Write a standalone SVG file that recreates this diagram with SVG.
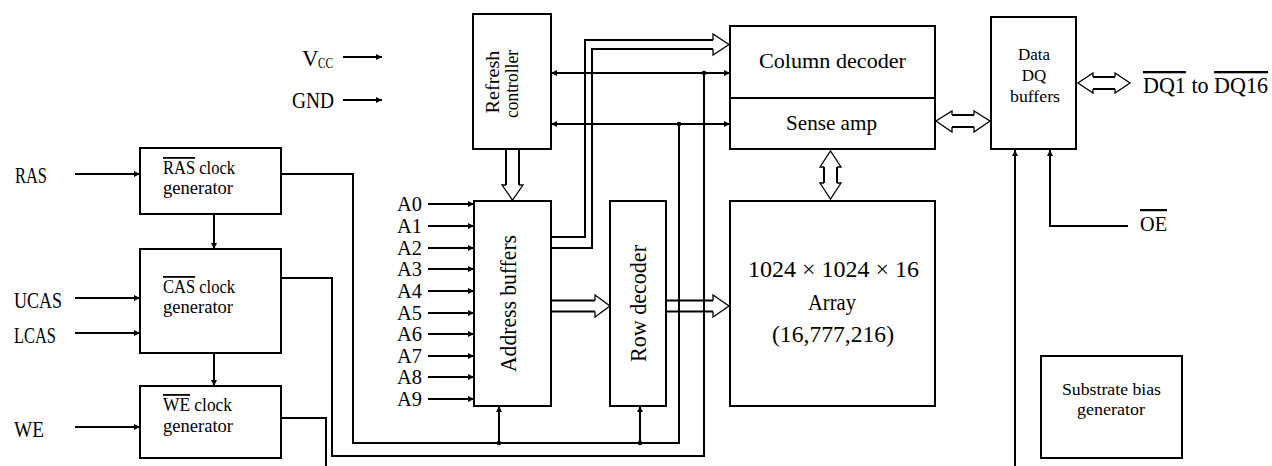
<svg xmlns="http://www.w3.org/2000/svg" width="1272" height="466" viewBox="0 0 1272 466">
<style>
  .box{fill:#fff;stroke:#000;stroke-width:2}
  .ln{fill:none;stroke:#000;stroke-width:2}
  .hd{fill:#fff;stroke:#000;stroke-width:1.3;stroke-linejoin:miter}
  .ar{marker-end:url(#ah)}
  .ar2{marker-start:url(#ah);marker-end:url(#ah)}
  .t{font-family:"Liberation Serif","Times New Roman",serif;fill:#000}
  .ov{text-decoration:overline}
  .dot{fill:#000}
</style>
<defs>
  <marker id="ah" viewBox="0 0 10 10" refX="10" refY="5" markerUnits="userSpaceOnUse" markerWidth="8" markerHeight="6" orient="auto-start-reverse">
    <path d="M0,0 L10,5 L0,10 z" fill="#000"/>
  </marker>
</defs>
<rect width="1272" height="466" fill="#fff"/>

<g id="connectors">
  <line class="ln ar" x1="75" y1="174" x2="140" y2="174"/>
  <line class="ln ar" x1="75" y1="298" x2="140" y2="298"/>
  <line class="ln ar" x1="75" y1="333" x2="140" y2="333"/>
  <line class="ln ar" x1="75" y1="427" x2="140" y2="427"/>
  <line class="ln ar" x1="214" y1="214" x2="214" y2="249"/>
  <line class="ln ar" x1="214" y1="353" x2="214" y2="386"/>
  <line class="ln ar" x1="343" y1="57" x2="382" y2="57"/>
  <line class="ln ar" x1="343" y1="100" x2="382" y2="100"/>
  <line class="ln ar" x1="428" y1="204" x2="474" y2="204"/>
  <line class="ln ar" x1="428" y1="226" x2="474" y2="226"/>
  <line class="ln ar" x1="428" y1="248" x2="474" y2="248"/>
  <line class="ln ar" x1="428" y1="269" x2="474" y2="269"/>
  <line class="ln ar" x1="428" y1="291" x2="474" y2="291"/>
  <line class="ln ar" x1="428" y1="313" x2="474" y2="313"/>
  <line class="ln ar" x1="428" y1="334" x2="474" y2="334"/>
  <line class="ln ar" x1="428" y1="356" x2="474" y2="356"/>
  <line class="ln ar" x1="428" y1="377" x2="474" y2="377"/>
  <line class="ln ar" x1="428" y1="399" x2="474" y2="399"/>
  <line class="ln ar2" x1="551" y1="73" x2="730" y2="73"/>
  <line class="ln ar2" x1="551" y1="124" x2="730" y2="124"/>
  <polyline class="ln" points="281,174 353,174 353,443 679,443 679,124"/>
  <polyline class="ln" points="281,278 332,278 332,456 704,456 704,73"/>
  <polyline class="ln" points="281,418 326,418 326,466"/>
  <line class="ln ar" x1="499" y1="443" x2="499" y2="406"/>
  <line class="ln ar" x1="640" y1="443" x2="640" y2="406"/>
  <circle class="dot" cx="499" cy="443" r="2.3"/>
  <circle class="dot" cx="640" cy="443" r="2.3"/>
  <circle class="dot" cx="679" cy="124" r="2.3"/>
  <circle class="dot" cx="704" cy="73" r="2.3"/>
  <polyline class="ln" points="551,237 585,237 585,40 713,40"/>
  <polyline class="ln" points="551,248 592,248 592,49 713,49"/>
  <path class="hd" d="M713,40 L713,34 L729,44.5 L713,55 L713,49"/>
  <line class="ln" x1="506" y1="149" x2="506" y2="185"/>
  <line class="ln" x1="519" y1="149" x2="519" y2="185"/>
  <path class="hd" d="M506,185 L502,185 L512.5,200 L523,185 L519,185"/>
  <line class="ln" x1="551" y1="300.5" x2="595" y2="300.5"/>
  <line class="ln" x1="551" y1="311.5" x2="595" y2="311.5"/>
  <path class="hd" d="M595,300.5 L595,295 L610,306 L595,317 L595,311.5"/>
  <line class="ln" x1="666" y1="300.5" x2="713" y2="300.5"/>
  <line class="ln" x1="666" y1="311.5" x2="713" y2="311.5"/>
  <path class="hd" d="M713,300.5 L713,295 L729,306 L713,317 L713,311.5"/>
  <path class="hd" d="M824,167 L820,167 L830.5,151 L841,167 L837,167"/>
  <line class="ln" x1="824" y1="167" x2="824" y2="183"/>
  <line class="ln" x1="837" y1="167" x2="837" y2="183"/>
  <path class="hd" d="M824,183 L820,183 L830.5,199 L841,183 L837,183"/>
  <path class="hd" d="M952,115 L952,111 L936,121 L952,132 L952,127"/>
  <line class="ln" x1="952" y1="115" x2="974" y2="115"/>
  <line class="ln" x1="952" y1="127" x2="974" y2="127"/>
  <path class="hd" d="M974,115 L974,111 L990,121 L974,132 L974,127"/>
  <path class="hd" d="M1093,77 L1093,73 L1078,83 L1093,93 L1093,89"/>
  <line class="ln" x1="1093" y1="77" x2="1115" y2="77"/>
  <line class="ln" x1="1093" y1="89" x2="1115" y2="89"/>
  <path class="hd" d="M1115,77 L1115,73 L1130,83 L1115,93 L1115,89"/>
  <line class="ln ar" x1="1015" y1="466" x2="1015" y2="150"/>
  <polyline class="ln ar" points="1128,226 1050,226 1050,150"/>
</g>

<g id="labels">
  <text class="t" x="15" y="183" font-size="23" textLength="32" lengthAdjust="spacingAndGlyphs">RAS</text>
  <text class="t" x="14" y="308" font-size="23" textLength="48" lengthAdjust="spacingAndGlyphs">UCAS</text>
  <text class="t" x="14" y="343" font-size="23" textLength="42" lengthAdjust="spacingAndGlyphs">LCAS</text>
  <text class="t" x="14" y="437" font-size="23" textLength="30" lengthAdjust="spacingAndGlyphs">WE</text>
  <text class="t" x="302" y="66" font-size="23">V</text>
  <text class="t" x="318" y="68" font-size="15" textLength="15" lengthAdjust="spacingAndGlyphs">CC</text>
  <text class="t" x="292" y="108" font-size="23" textLength="42" lengthAdjust="spacingAndGlyphs">GND</text>
  <g font-size="20">
    <text class="t" x="397" y="211" textLength="25" lengthAdjust="spacingAndGlyphs">A0</text>
    <text class="t" x="397" y="233" textLength="25" lengthAdjust="spacingAndGlyphs">A1</text>
    <text class="t" x="397" y="255" textLength="25" lengthAdjust="spacingAndGlyphs">A2</text>
    <text class="t" x="397" y="276" textLength="25" lengthAdjust="spacingAndGlyphs">A3</text>
    <text class="t" x="397" y="298" textLength="25" lengthAdjust="spacingAndGlyphs">A4</text>
    <text class="t" x="397" y="320" textLength="25" lengthAdjust="spacingAndGlyphs">A5</text>
    <text class="t" x="397" y="341" textLength="25" lengthAdjust="spacingAndGlyphs">A6</text>
    <text class="t" x="397" y="363" textLength="25" lengthAdjust="spacingAndGlyphs">A7</text>
    <text class="t" x="397" y="384" textLength="25" lengthAdjust="spacingAndGlyphs">A8</text>
    <text class="t" x="397" y="406" textLength="25" lengthAdjust="spacingAndGlyphs">A9</text>
  </g>
  <text class="t" x="1143" y="93" font-size="23" textLength="125" lengthAdjust="spacingAndGlyphs"><tspan class="ov">DQ1</tspan> to <tspan class="ov">DQ16</tspan></text>
  <text class="t ov" x="1140" y="231" font-size="22" textLength="27" lengthAdjust="spacingAndGlyphs">OE</text>
</g>

<g id="ras-clock-generator">
  <rect class="box" x="140" y="148" width="141" height="66"/>
  <text class="t" x="163" y="174" font-size="18" textLength="72" lengthAdjust="spacingAndGlyphs"><tspan class="ov">RAS</tspan> clock</text>
  <text class="t" x="163" y="194" font-size="18" textLength="70" lengthAdjust="spacingAndGlyphs">generator</text>
</g>
<g id="cas-clock-generator">
  <rect class="box" x="140" y="249" width="141" height="104"/>
  <text class="t" x="163" y="293" font-size="18" textLength="72" lengthAdjust="spacingAndGlyphs"><tspan class="ov">CAS</tspan> clock</text>
  <text class="t" x="163" y="313" font-size="18" textLength="70" lengthAdjust="spacingAndGlyphs">generator</text>
</g>
<g id="we-clock-generator">
  <rect class="box" x="140" y="386" width="141" height="72"/>
  <text class="t" x="163" y="411" font-size="18" textLength="69" lengthAdjust="spacingAndGlyphs"><tspan class="ov">WE</tspan> clock</text>
  <text class="t" x="163" y="432" font-size="18" textLength="70" lengthAdjust="spacingAndGlyphs">generator</text>
</g>
<g id="refresh-controller">
  <rect class="box" x="473" y="14" width="78" height="135"/>
  <text class="t" transform="translate(499,82) rotate(-90)" text-anchor="middle" font-size="19" textLength="63" lengthAdjust="spacingAndGlyphs">Refresh</text>
  <text class="t" transform="translate(518,84) rotate(-90)" text-anchor="middle" font-size="19" textLength="68" lengthAdjust="spacingAndGlyphs">controller</text>
</g>
<g id="address-buffers">
  <rect class="box" x="474" y="201" width="77" height="205"/>
  <text class="t" transform="translate(516,303.5) rotate(-90)" text-anchor="middle" font-size="24" textLength="137" lengthAdjust="spacingAndGlyphs">Address buffers</text>
</g>
<g id="row-decoder">
  <rect class="box" x="610" y="201" width="56" height="205"/>
  <text class="t" transform="translate(646,303.5) rotate(-90)" text-anchor="middle" font-size="24" textLength="117" lengthAdjust="spacingAndGlyphs">Row decoder</text>
</g>
<g id="column-decoder">
  <rect class="box" x="730" y="26" width="205" height="72"/>
  <text class="t" x="832.5" y="68" text-anchor="middle" font-size="22" textLength="147" lengthAdjust="spacingAndGlyphs">Column decoder</text>
</g>
<g id="sense-amp">
  <rect class="box" x="730" y="98" width="205" height="51"/>
  <text class="t" x="831.5" y="130" text-anchor="middle" font-size="22" textLength="91" lengthAdjust="spacingAndGlyphs">Sense amp</text>
</g>
<g id="array">
  <rect class="box" x="730" y="201" width="205" height="205"/>
  <text class="t" x="833.5" y="277" text-anchor="middle" font-size="24" textLength="171" lengthAdjust="spacingAndGlyphs">1024 × 1024 × 16</text>
  <text class="t" x="832" y="310" text-anchor="middle" font-size="24" textLength="48" lengthAdjust="spacingAndGlyphs">Array</text>
  <text class="t" x="833" y="342" text-anchor="middle" font-size="24" textLength="122" lengthAdjust="spacingAndGlyphs">(16,777,216)</text>
</g>
<g id="data-dq-buffers">
  <rect class="box" x="991" y="17" width="85" height="132"/>
  <text class="t" x="1034" y="60" text-anchor="middle" font-size="17">Data</text>
  <text class="t" x="1034" y="81" text-anchor="middle" font-size="17">DQ</text>
  <text class="t" x="1035" y="102" text-anchor="middle" font-size="17" textLength="50" lengthAdjust="spacingAndGlyphs">buffers</text>
</g>
<g id="substrate-bias-generator">
  <rect class="box" x="1041" y="356" width="141" height="102"/>
  <text class="t" x="1111.5" y="395" text-anchor="middle" font-size="17" textLength="99" lengthAdjust="spacingAndGlyphs">Substrate bias</text>
  <text class="t" x="1111" y="415" text-anchor="middle" font-size="17" textLength="68" lengthAdjust="spacingAndGlyphs">generator</text>
</g>
</svg>
